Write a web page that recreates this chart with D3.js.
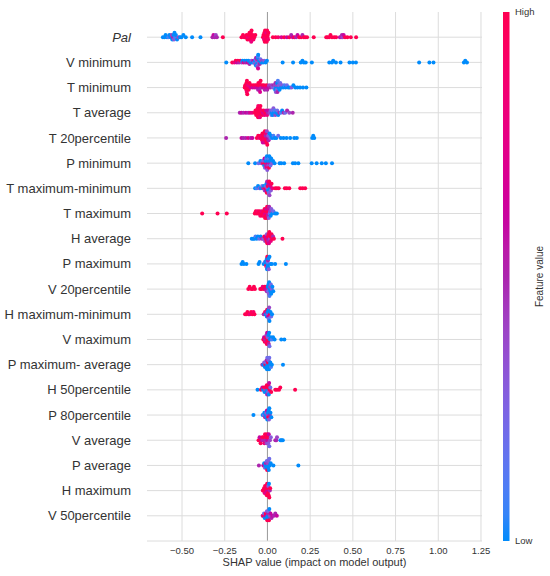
<!DOCTYPE html>
<html>
<head>
<meta charset="utf-8">
<script src="https://cdn.jsdelivr.net/npm/d3@7"></script>
<style>
body { margin: 0; background: #fff; }
text { font-family: "Liberation Sans", Arial, sans-serif; fill: #333; }
</style>
</head>
<body>
<script>
// feature names, top to bottom
var features = ["Pal", "V minimum", "T minimum", "T average", "T 20percentile",
  "P minimum", "T maximum-minimum", "T maximum", "H average", "P maximum",
  "V 20percentile", "H maximum-minimum", "V maximum", "P maximum- average",
  "H 50percentile", "P 80percentile", "V average", "P average", "H maximum",
  "V 50percentile"];
var xTicks = [-0.5, -0.25, 0, 0.25, 0.5, 0.75, 1, 1.25];

// points: [SHAP value in thousandths, feature value 0 = low .. 1 = high]
var pal = [[-612,0],[-603,0],[-596,0],[-588,0],[-580,.1],[-574,0],[-566,0],[-561,.4],[-557,0],[-553,.5],[-550,0],[-547,.3],[-544,0],[-540,.1],[-536,0],[-529,0],[-520,.4],[-512,0],[-503,0],[-492,0],[-478,0],[-441,0],[-392,0],
  [-322,.5],[-316,.6],[-309,.5],[-302,.4],[-296,.5],[-261,1],
  [-152,1],[-143,1],[-136,.9],[-129,1],[-122,1],[-117,1],[-113,.8],[-110,1],[-107,1],[-105,1],[-103,.9],[-101,1],[-99,1],[-97,1],[-95,.8],[-93,1],[-90,1],[-86,1],[-82,.9],[-77,1],[-71,1],
  [-26,1],[-23,1],[-20,.8],[-18,1],[-16,1],[-14,1],[-12,.9],[-10,1],[-8,1],[-6,.8],[-4,1],[-2,1],[0,1],[2,1],[4,.9],[6,1],
  [32,1],[48,1],[63,.9],[82,.7],[98,1],[114,.6],[128,1],[139,.5],[148,.6],[158,1],[168,.5],[176,.6],[186,1],[197,1],[205,.5],[213,1],[221,1],[232,1],[271,1],
  [344,1],[352,1],[361,1],[369,1],[378,1],[391,1],[402,1],[424,.6],[431,.5],[436,.5],[440,.4],[446,.6],[454,1],[468,1],[488,1],[519,1]];
var vMin = [[-241,0],[-206,1],[-193,.8],[-186,1],[-179,.6],[-173,1],[-166,.5],[-159,1],[-151,.4],[-146,0],[-139,.7],[-133,0],[-127,.5],[-121,0],[-116,.6],[-111,0],[-105,.5],[-99,0],[-93,.3],[-87,0],[-82,.6],[-78,.1],
  [-73,0],[-71,.4],[-69,.2],[-67,0],[-66,.6],[-64,.1],[-63,.3],[-61,0],[-60,.5],[-59,.2],[-58,0],[-57,.4],[-56,.1],[-55,.7],[-54,0],
  [-51,.3],[-48,0],[-45,.5],[-41,.2],[-37,0],[-32,.4],[-26,0],[-19,.3],[-11,0],[-3,0],
  [89,0],[150,0],[195,0],[205,0],[213,0],[224,0],[260,0],[362,0],[378,0],[385,0],[401,0],[428,0],[480,0],[500,0],[518,0],[888,0],[948,0],[972,0],[1150,0],[1158,0],[1168,0]];
var tMin = [[-133,1],[-130,1],[-128,1],[-126,1],[-124,1],[-123,1],[-121,.9],[-120,1],[-118,1],[-116,1],[-113,.8],[-110,1],[-105,1],[-99,.7],[-93,1],[-86,.6],[-80,1],[-74,.7],[-68,1],[-63,.6],
  [-58,1],[-55,.5],[-53,1],[-51,.6],[-49,1],[-47,.5],[-45,1],[-43,.7],[-40,1],[-36,.5],[-31,1],[-26,.6],[-21,1],[-16,.5],[-11,.7],[-6,1],[-1,.5],[4,.6],[10,.4],[17,.5],[24,.4],[30,.3],
  [36,.5],[40,.2],[43,.4],[45,0],[47,.5],[49,.3],[51,0],[53,.4],[55,.2],[57,0],[59,.5],[61,.1],[64,0],[67,.3],[71,0],[75,.2],[80,0],[86,.3],[92,0],[99,.1],[106,0],[114,.2],[122,0],[131,0],[141,.3],[152,0],[163,0],[176,0],[191,0],[208,0],[228,0]];
var tAvg = [[-162,.5],[-152,.6],[-140,.5],[-126,.6],[-113,.5],[-102,.7],[-90,.8],
  [-75,1],[-70,1],[-66,1],[-63,1],[-61,1],[-59,1],[-57,1],[-55,1],[-54,.9],[-52,1],[-50,1],[-48,1],[-46,1],[-44,.8],[-41,1],[-38,1],[-34,.9],[-30,1],[-26,.7],[-22,1],[-17,.8],[-12,1],[-7,.6],[-2,.8],[3,.5],[8,.6],[13,.4],
  [19,.3],[23,.1],[26,0],[29,.2],[32,0],[35,.3],[38,0],[42,.1],[46,.4],[51,0],[57,.2],[63,0],[70,.5],[78,.1],[86,0],[95,.5],[104,.2],[115,.5],[128,.4],[148,.5]];
var t20 = [[-242,.5],[-152,.6],[-141,.5],[-127,.5],[-113,.7],[-98,.5],[-88,.6],
  [-62,1],[-54,1],[-47,.8],[-41,1],[-37,1],[-34,.9],[-31,1],[-29,1],[-27,.6],[-25,1],[-23,1],[-21,.9],[-19,1],[-17,.7],[-15,1],[-13,1],[-11,.5],[-9,1],[-7,.8],[-5,1],[-3,.4],[-1,1],[1,.6],[4,.3],[7,.5],
  [12,0],[17,.2],[22,0],[28,0],[35,.1],[42,0],[52,0],[63,.2],[78,0],[94,0],[112,0],[133,0],[157,0],[172,0],[262,0],[268,0],[274,0]];
var pMin = [[-112,0],[-72,0],[-52,.2],[-41,0],[-34,.4],[-29,.1],[-25,1],[-22,.3],[-19,0],[-17,.6],[-15,.2],[-13,1],[-11,0],[-9,.5],[-7,.1],[-5,.8],[-3,0],[-1,.3],[1,.6],[3,0],[5,.4],[7,.1],[9,1],[11,0],[13,.5],[15,0],[18,.2],[22,0],[27,.3],[33,0],[42,0],
  [71,0],[81,0],[98,0],[149,0],[162,0],[181,0],[259,0],[288,0],[318,0],[342,0],[378,0]];
var tMaxMin = [[-72,0],[-63,.1],[-55,0],[-46,.3],[-38,0],[-31,.2],[-25,.5],[-20,0],[-16,.4],[-13,1],[-10,.2],[-8,.6],[-6,0],[-4,1],[-2,.5],[0,.3],[2,1],[4,0],[6,.6],[8,.2],[10,1],[12,.4],[14,0],[17,.7],[20,.3],[24,1],[29,.8],
  [45,1],[55,1],[66,1],[102,1],[113,1],[128,1],[192,1],[206,1],[221,1]];
var tMax = [[-382,1],[-292,1],[-238,1],[-74,1],[-68,1],[-62,1],[-57,.9],[-52,1],[-47,1],[-42,.9],[-38,1],[-34,.8],[-30,1],[-26,1],[-23,1],[-20,.9],[-17,1],[-14,1],[-12,.7],[-10,1],[-8,1],[-6,.6],[-4,1],[-2,1],[0,.8],[2,1],[4,.5],[6,.7],[8,.3],[10,.5],[13,.2],[16,.4],[19,0],[23,.3],[28,0],[35,.2],[45,0],[55,0]];
var hAvg = [[-92,0],[-84,0],[-77,0],[-70,.1],[-63,0],[-56,0],[-48,.2],[-40,0],[-32,.5],[-24,.3],[-18,1],[-14,.4],[-11,1],[-8,.6],[-5,1],[-3,.3],[-1,1],[1,.6],[3,1],[5,.5],[7,1],[9,.7],[11,1],[14,.4],[17,1],[20,.8],[24,1],[28,1],[33,.5],[38,1],[88,1]];
var pMax = [[-152,0],[-145,0],[-138,0],[-123,0],[-52,0],[-46,0],[-22,0],[-15,.2],[-12,0],[-10,0],[-8,1],[-6,0],[-4,.4],[-3,0],[-2,0],[-1,1],[0,0],[1,.2],[2,0],[3,.5],[4,0],[6,0],[8,.3],[12,0],[18,0],[26,0],[45,0],[108,0]];
var v20 = [[-112,1],[-104,1],[-95,1],[-87,1],[-79,1],[-73,1],[-42,1],[-35,1],[-28,.8],[-22,1],[-16,1],[-12,.6],[-8,1],[-4,.5],[0,.5],[2,0],[4,.2],[6,0],[8,.3],[10,0],[12,.1],[14,0],[16,.4],[18,0],[20,.2],[22,0],[25,.3],[29,0],[34,0]];
var hMaxMin = [[-131,1],[-124,1],[-117,1],[-110,1],[-103,.8],[-96,1],[-89,1],[-82,.9],[-76,1],[-22,.5],[-14,1],[-10,0],[-7,.5],[-4,0],[-2,1],[0,.3],[2,0],[4,.6],[6,0],[8,.2],[10,.4],[12,0],[15,1],[18,0],[22,.2],[27,0]];
var vMax = [[-24,1],[-20,.6],[-16,1],[-13,.5],[-10,1],[-8,.8],[-6,.4],[-4,1],[-2,.6],[0,1],[2,.3],[4,1],[6,0],[8,.5],[10,0],[12,.2],[15,0],[20,0],[26,.1],[33,0],[42,0],[81,0],[99,0]];
var pMaxAvg = [[-30,.5],[-24,0],[-19,.3],[-15,0],[-12,1],[-9,.2],[-7,0],[-5,.5],[-3,0],[-1,.2],[1,0],[3,1],[5,0],[7,.3],[9,0],[11,.2],[14,0],[17,0],[21,.1],[26,0],[91,0]];
var h50 = [[-58,0],[-38,1],[-30,.6],[-25,0],[-21,1],[-17,0],[-13,.4],[-10,1],[-7,0],[-4,1],[-2,.5],[0,0],[2,1],[4,.3],[6,1],[8,0],[10,.6],[13,1],[17,.2],[22,1],[46,1],[56,1],[68,1],[75,1],[162,1]];
var p80 = [[-82,0],[-28,0],[-22,.2],[-18,0],[-14,.5],[-11,0],[-8,.3],[-5,0],[-3,.6],[-1,0],[1,.4],[3,0],[5,1],[7,0],[9,.3],[11,0],[14,.5],[18,0],[23,0]];
var vAvg = [[-52,1],[-46,.6],[-40,1],[-35,.7],[-30,1],[-26,.5],[-22,1],[-18,.8],[-14,1],[-11,.5],[-8,1],[-5,.4],[-2,1],[0,.6],[2,1],[5,.3],[8,.6],[11,.2],[15,.4],[20,.3],[46,.5],[52,.5],[56,.4],[76,0],[83,0],[90,0]];
var pAvg = [[-50,.5],[-24,.6],[-19,0],[-15,.3],[-12,0],[-9,.5],[-6,0],[-4,.2],[-2,1],[0,0],[2,.4],[4,0],[6,.3],[8,0],[11,.2],[14,0],[19,0],[35,0],[181,0]];
var hMax = [[-27,1],[-23,1],[-20,1],[-17,.8],[-14,1],[-12,1],[-10,1],[-8,.7],[-6,1],[-4,1],[-2,1],[0,.6],[1,1],[3,1],[5,.3],[7,1],[9,0],[11,1],[14,.5],[16,1]];
var v50 = [[-28,.5],[-24,1],[-20,.2],[-16,0],[-12,.6],[-9,1],[-6,0],[-3,.3],[-1,1],[1,0],[3,.5],[5,0],[7,.2],[9,1],[11,0],[14,.4],[18,.6],[24,.5],[30,.6],[38,.5],[46,.5],[55,.6]];

var rows = [pal, vMin, tMin, tAvg, t20, pMin, tMaxMin, tMax, hAvg, pMax,
  v20, hMaxMin, vMax, pMaxAvg, h50, p80, vAvg, pAvg, hMax, v50];

var w = 550, h = 576;
var plotL = 147, plotR = 482, plotT = 12, plotB = 541;

var svg = d3.select("body").append("svg")
  .attr("width", w)
  .attr("height", h)
  .style("background", "#fff");

var x = d3.scaleLinear().domain([-0.705, 1.256]).range([plotL, plotR]);
var y = d3.scaleLinear().domain([-1, features.length]).range([plotB, plotT]);
var rowStep = y(0) - y(1);

// blue -> purple -> red, hue walked in HCL with lightness dipping in the middle
var cBlue = d3.hcl("#008bfb"), cRed = d3.hcl("#ff0052");
function color(t) {
  var dh = ((cRed.h - cBlue.h + 540) % 360) - 180;
  var l = t < 0.5 ? cBlue.l + (43 - cBlue.l) * t * 2 : 43 + (cRed.l - 43) * (t - 0.5) * 2;
  return d3.hcl(cBlue.h + dh * t, cBlue.c + (cRed.c - cBlue.c) * t, l).formatRgb();
}

function rowY(k) { return y(features.length - 1 - k); }

// grid
svg.append("g").selectAll("line")
  .data(xTicks)
  .join("line")
  .attr("x1", function(d) { return x(d); })
  .attr("x2", function(d) { return x(d); })
  .attr("y1", plotT)
  .attr("y2", plotB)
  .attr("stroke", function(d) { return d === 0 ? "#999" : "#dcdcdc"; })
  .attr("stroke-width", 1);

svg.append("g").selectAll("line")
  .data(features)
  .join("line")
  .attr("x1", plotL)
  .attr("x2", plotR)
  .attr("y1", function(d, i) { return rowY(i); })
  .attr("y2", function(d, i) { return rowY(i); })
  .attr("stroke", "#dcdcdc")
  .attr("stroke-width", 1);

svg.append("line")
  .attr("x1", plotL).attr("x2", plotR)
  .attr("y1", plotB).attr("y2", plotB)
  .attr("stroke", "#dcdcdc");

// beeswarm offsets, same stacking idea as shap's summary plot
function swarm(pts) {
  var bins = pts.map(function(p) { return Math.round(x(p[0] / 1000) / 2.2); });
  var idx = d3.range(pts.length).sort(function(a, b) { return bins[a] - bins[b] || a - b; });
  var ys = new Array(pts.length);
  var layer = 0, last = null;
  idx.forEach(function(i) {
    if (bins[i] !== last) layer = 0;
    ys[i] = Math.ceil(layer / 2) * ((layer % 2) * 2 - 1);
    layer++;
    last = bins[i];
  });
  var m = d3.max(ys, function(v) { return v + 1; });
  return ys.map(function(v) { return v * 0.9 * 0.4 * rowStep / m; });
}

rows.forEach(function(pts, k) {
  var cy = rowY(k);
  var off = swarm(pts);
  svg.append("g").selectAll("circle")
    .data(pts)
    .join("circle")
    .attr("cx", function(d) { return x(d[0] / 1000); })
    .attr("cy", function(d, i) { return cy - off[i]; })
    .attr("r", 2)
    .attr("fill", function(d) { return color(d[1]); });
});

// feature labels
svg.append("g").selectAll("text")
  .data(features)
  .join("text")
  .attr("x", 131)
  .attr("y", function(d, i) { return rowY(i); })
  .attr("dy", "0.35em")
  .attr("text-anchor", "end")
  .attr("font-size", "13px")
  .style("font-style", function(d) { return d === "Pal" ? "italic" : "normal"; })
  .text(function(d) { return d; });

// x tick labels
svg.append("g").selectAll("text")
  .data(xTicks)
  .join("text")
  .attr("x", function(d) { return x(d); })
  .attr("y", 554)
  .attr("text-anchor", "middle")
  .attr("font-size", "9.5px")
  .text(d3.format(".2f"));

svg.append("text")
  .attr("x", (plotL + plotR) / 2)
  .attr("y", 566)
  .attr("text-anchor", "middle")
  .attr("font-size", "11px")
  .text("SHAP value (impact on model output)");

// colour bar
var grad = svg.append("defs").append("linearGradient")
  .attr("id", "cbar")
  .attr("x1", 0).attr("y1", 1).attr("x2", 0).attr("y2", 0);
grad.selectAll("stop")
  .data(d3.range(0, 1.0001, 0.05))
  .join("stop")
  .attr("offset", function(d) { return d; })
  .attr("stop-color", function(d) { return color(d); });

svg.append("rect")
  .attr("x", 503).attr("y", plotT)
  .attr("width", 6.5).attr("height", plotB - plotT)
  .attr("fill", "url(#cbar)");

svg.append("text").attr("x", 515).attr("y", plotT).attr("dy", "0.35em")
  .attr("font-size", "9.5px").text("High");
svg.append("text").attr("x", 515).attr("y", plotB).attr("dy", "0.35em")
  .attr("font-size", "9.5px").text("Low");
svg.append("text")
  .attr("transform", "translate(543," + ((plotT + plotB) / 2) + ") rotate(-90)")
  .attr("text-anchor", "middle")
  .attr("font-size", "10px")
  .text("Feature value");
</script>
</body>
</html>
